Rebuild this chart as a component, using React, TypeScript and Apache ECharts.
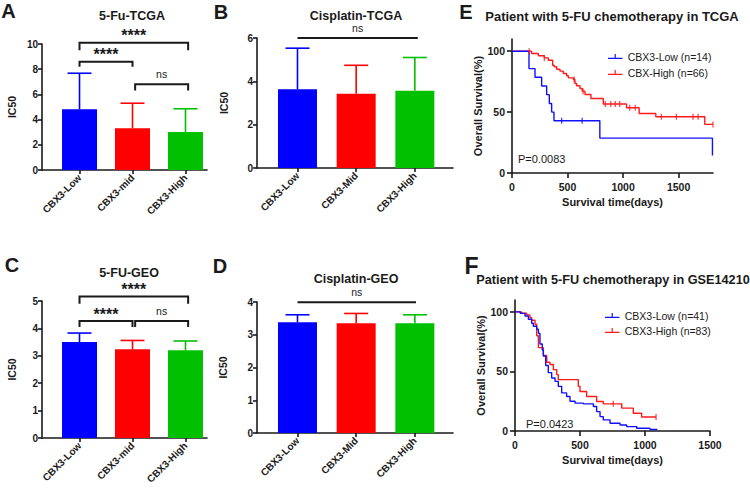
import React, { useEffect, useRef } from 'react';
import * as echarts from 'echarts';

const FONT = '"Liberation Sans", Arial, Helvetica, sans-serif';
const INK = '#1a1a1a';
const BAR_COLORS = ['#0000ff', '#ff0000', '#00c000'];
const KM_BLUE = '#1010ff';
const KM_RED = '#ff1a1a';

// ---- bar panels ----
const CATS_LOWER = ['CBX3-Low', 'CBX3-mid', 'CBX3-High'];
const CATS_UPPER = ['CBX3-Low', 'CBX3-Mid', 'CBX3-High'];

const A_MEAN = [4.82, 3.32, 3.02];
const A_TOP = [7.68, 5.3, 4.86];
const B_MEAN = [3.63, 3.43, 3.56];
const B_TOP = [5.53, 4.74, 5.1];
const C_MEAN = [3.5, 3.24, 3.2];
const C_TOP = [3.83, 3.56, 3.54];
const D_MEAN = [3.38, 3.35, 3.35];
const D_TOP = [3.61, 3.65, 3.61];

// brackets: [x1, x2, line value, leg end value]
const A_BRACKETS = [[0, 2.05, 10.1, 9.5], [0, 1, 8.6, 8.2], [1.05, 2.05, 6.8, 6.3]];
const A_LABELS = ['****', '****', 'ns'];
const B_BRACKETS = [[0, 2.05, 6.0, 6.0]];
const B_LABELS = ['ns'];
const C_BRACKETS = [[0, 2.05, 5.16, 4.9], [0, 1, 4.27, 4.05], [1.05, 2.05, 4.27, 4.05]];
const C_LABELS = ['****', '****', 'ns'];
const D_BRACKETS = [[0, 2.02, 3.99, 3.99]];
const D_LABELS = ['ns'];

// ---- survival panels ----
const E_NAMES = ['CBX3-Low (n=14)', 'CBX-High (n=66)'];
const E_LOW = [[0, 100], [153, 85.7], [207, 78.6], [267, 71.4], [312, 64.3], [336, 57.1], [357, 50], [378, 42.9], [791, 28.6], [1805, 14.3]];
const E_LOW_CENS = [[447, 42.9], [632, 42.9]];
const E_HIGH = [[0, 100], [177, 98.1], [237, 96.2], [291, 94.5], [327, 92.6], [366, 88.5], [380, 87.2], [402, 85.2], [432, 83.6], [462, 81.7], [492, 79.8], [507, 78.1], [552, 76.8], [567, 73.5], [582, 71.6], [612, 69.4], [632, 67.2], [657, 64.5], [711, 61.2], [822, 56.6], [1031, 53.6], [1145, 48.9], [1295, 46.2], [1736, 39.9], [1810, 39.9]];
const E_HIGH_CENS = [[155, 100], [291, 94.5], [560, 76.8], [640, 67.2], [840, 56.6], [890, 56.6], [930, 56.6], [970, 56.6], [1060, 53.6], [1110, 53.6], [1345, 46.2], [1480, 46.2], [1630, 46.2], [1676, 46.2], [1810, 39.9]];

const F_NAMES = ['CBX3-Low (n=41)', 'CBX3-High (n=83)'];
const F_LOW = [[0, 100], [40, 98.8], [77, 96.6], [103, 93.8], [128, 90.5], [141, 88], [167, 85.4], [180, 82], [192, 73], [210, 68], [218, 63], [236, 55], [256, 49], [282, 44.5], [308, 41.7], [333, 37.5], [359, 32], [397, 29], [423, 25], [462, 23.4], [526, 22.8], [603, 20.6], [628, 16.3], [654, 12.1], [679, 9.3], [731, 6.5], [808, 5], [859, 3.7], [936, 2.3], [1038, 1.2], [1095, 1.2]];
const F_LOW_CENS: number[][] = [];
const F_HIGH = [[0, 100], [51, 98.9], [90, 97.5], [115, 95.2], [128, 93], [154, 89.6], [167, 80], [180, 70], [218, 63.4], [244, 57.7], [269, 55.8], [295, 51.5], [321, 47.3], [333, 43.1], [487, 37.5], [500, 33.2], [551, 29], [628, 24.8], [679, 22.8], [821, 19.2], [910, 14.9], [974, 11.8], [1085, 11.8]];
const F_HIGH_CENS = [[756, 22.8], [1085, 11.8]];

const TICK_ICON = 'path://M0,4H15V5.2H0Z M6.9,0H8.1V5.2H6.9Z';

const axisLineStyle = { color: INK, width: 1.6 };

function barXAxis(grid: number, min: number, max: number, cats: string[]) {
  return {
    type: 'value', gridIndex: grid, min, max,
    axisLine: { show: true, onZero: false, lineStyle: axisLineStyle },
    axisTick: { show: true, length: 4, customValues: [0, 1, 2], lineStyle: axisLineStyle },
    axisLabel: {
      customValues: [0, 1, 2], rotate: 45, margin: 6, fontSize: 10, fontWeight: 'bold',
      fontFamily: FONT, color: INK, formatter: (v: number) => cats[Math.round(v)] ?? '',
    },
    splitLine: { show: false },
  };
}

function barYAxis(grid: number, max: number, interval: number, nameGap: number) {
  return {
    type: 'value', gridIndex: grid, min: 0, max, interval,
    name: 'IC50', nameLocation: 'middle', nameGap, nameRotate: 90,
    nameTextStyle: { fontSize: 10.5, fontWeight: 'bold', fontFamily: FONT, color: INK },
    axisLine: { show: true, onZero: false, lineStyle: axisLineStyle },
    axisTick: { show: true, length: 4, lineStyle: axisLineStyle },
    axisLabel: { margin: 4, fontSize: 10, fontWeight: 'bold', fontFamily: FONT, color: INK },
    splitLine: { show: false },
  };
}

function kmXAxis(grid: number, max: number) {
  return {
    type: 'value', gridIndex: grid, min: 0, max,
    name: 'Survival time(days)', nameLocation: 'middle', nameGap: 23,
    nameTextStyle: { fontSize: 11, fontWeight: 'bold', fontFamily: FONT, color: INK },
    axisLine: { show: true, onZero: false, lineStyle: axisLineStyle },
    axisTick: { show: true, length: 5, customValues: [0, 500, 1000, 1500], lineStyle: axisLineStyle },
    axisLabel: {
      customValues: [0, 500, 1000, 1500], margin: 8, fontSize: 10.5, fontWeight: 'bold', fontFamily: FONT, color: INK,
      formatter: (v: number) => String(v),
    },
    splitLine: { show: false },
  };
}

function kmYAxis(grid: number) {
  return {
    type: 'value', gridIndex: grid, min: 0, max: 110,
    name: 'Overall Survival(%)', nameLocation: 'middle', nameGap: 27, nameRotate: 90,
    nameTextStyle: { fontSize: 11, fontWeight: 'bold', fontFamily: FONT, color: INK },
    axisLine: { show: true, onZero: false, lineStyle: axisLineStyle },
    axisTick: { show: true, length: 5, customValues: [0, 50, 100], lineStyle: axisLineStyle },
    axisLabel: {
      customValues: [0, 50, 100], margin: 7, fontSize: 10.5, fontWeight: 'bold', fontFamily: FONT, color: INK,
      formatter: (v: number) => String(v),
    },
    splitLine: { show: false },
  };
}

function barSeries(idx: number, means: number[], width: number) {
  return {
    type: 'bar', xAxisIndex: idx, yAxisIndex: idx, barWidth: width, z: 2,
    data: means.map((v, k) => ({ value: [k, v], itemStyle: { color: BAR_COLORS[k] } })),
  };
}

function errSeries(idx: number, means: number[], tops: number[], cap: number) {
  return {
    type: 'custom', xAxisIndex: idx, yAxisIndex: idx, z: 3,
    encode: { x: 0, y: [1, 2] },
    data: means.map((v, k) => [k, v, tops[k]]),
    renderItem: (params: any, api: any) => {
      const p0 = api.coord([api.value(0), api.value(1)]);
      const p1 = api.coord([api.value(0), api.value(2)]);
      const color = BAR_COLORS[params.dataIndex];
      return {
        type: 'group',
        children: [
          { type: 'line', shape: { x1: p0[0], y1: p0[1], x2: p1[0], y2: p1[1] }, style: { stroke: color, lineWidth: 1.6 } },
          { type: 'line', shape: { x1: p1[0] - cap / 2, y1: p1[1], x2: p1[0] + cap / 2, y2: p1[1] }, style: { stroke: color, lineWidth: 1.6 } },
        ],
      };
    },
  };
}

function bracketSeries(idx: number, brackets: number[][], labels: string[]) {
  return {
    type: 'custom', xAxisIndex: idx, yAxisIndex: idx, z: 4, clip: false,
    encode: { x: [0, 1], y: [2, 3] },
    data: brackets,
    renderItem: (params: any, api: any) => {
      const a = api.coord([api.value(0), api.value(3)]);
      const b = api.coord([api.value(0), api.value(2)]);
      const c = api.coord([api.value(1), api.value(2)]);
      const d = api.coord([api.value(1), api.value(3)]);
      const label = labels[params.dataIndex];
      const stars = label !== 'ns';
      return {
        type: 'group',
        children: [
          { type: 'polyline', shape: { points: [a, b, c, d] }, style: { stroke: INK, lineWidth: 2, fill: 'none' } },
          {
            type: 'text', x: (b[0] + c[0]) / 2, y: b[1] - (stars ? 7 : 10),
            style: {
              text: label, align: 'center', verticalAlign: 'middle', fill: INK, fontFamily: FONT,
              fontSize: stars ? 16 : 10.5, fontWeight: stars ? 'bold' : 'normal',
            },
          },
        ],
      };
    },
  };
}

function kmLine(idx: number, name: string, data: number[][], color: string) {
  return {
    type: 'line', name, xAxisIndex: idx, yAxisIndex: idx, step: 'end', symbol: 'none', showSymbol: false,
    data, lineStyle: { color, width: 1.4 }, itemStyle: { color }, z: 3,
  };
}

function kmCens(idx: number, name: string, data: number[][], color: string) {
  return {
    type: 'scatter', name, xAxisIndex: idx, yAxisIndex: idx, symbol: 'rect', symbolSize: [1.3, 6],
    data, itemStyle: { color }, z: 4, silent: true,
  };
}

function txt(text: string, x: number, y: number, size: number, bold = true, align = 'center') {
  return {
    type: 'text', x, y,
    style: { text, fontSize: size, fontWeight: bold ? 'bold' : 'normal', fontFamily: FONT, fill: INK, align, verticalAlign: 'middle' },
  };
}

export default function App() {
  const ref = useRef<HTMLDivElement>(null);
  useEffect(() => {
    if (!ref.current) return;
    const chart = echarts.init(ref.current, undefined, { renderer: 'svg' });
    const legendText = { fontSize: 10.5, fontFamily: FONT, color: INK };
    chart.setOption({
      animation: false,
      backgroundColor: '#ffffff',
      grid: [
        { left: 42, top: 44, width: 165, height: 126 },
        { left: 257, top: 38, width: 196, height: 130 },
        { left: 42, top: 301, width: 165, height: 137 },
        { left: 257, top: 302, width: 196, height: 131 },
        { left: 512, top: 39, width: 201, height: 134 },
        { left: 515, top: 300, width: 195, height: 131 },
      ],
      xAxis: [
        barXAxis(0, -0.708, 2.406, CATS_LOWER),
        barXAxis(1, -0.69, 2.65, CATS_UPPER),
        barXAxis(2, -0.708, 2.406, CATS_LOWER),
        barXAxis(3, -0.69, 2.65, CATS_UPPER),
        kmXAxis(4, 1810),
        kmXAxis(5, 1500),
      ],
      yAxis: [
        barYAxis(0, 10, 2, 25),
        barYAxis(1, 6, 2, 28),
        barYAxis(2, 5, 1, 25),
        barYAxis(3, 4, 1, 29),
        kmYAxis(4),
        kmYAxis(5),
      ],
      legend: [
        {
          left: 603, top: 46, orient: 'vertical', itemWidth: 15, itemHeight: 5, itemGap: 5,
          icon: TICK_ICON, selectedMode: false, data: E_NAMES, textStyle: legendText,
        },
        {
          left: 600, top: 305, orient: 'vertical', itemWidth: 15, itemHeight: 5, itemGap: 4,
          icon: TICK_ICON, selectedMode: false, data: F_NAMES, textStyle: legendText,
        },
      ],
      series: [
        barSeries(0, A_MEAN, 35), errSeries(0, A_MEAN, A_TOP, 24), bracketSeries(0, A_BRACKETS, A_LABELS),
        barSeries(1, B_MEAN, 39), errSeries(1, B_MEAN, B_TOP, 24), bracketSeries(1, B_BRACKETS, B_LABELS),
        barSeries(2, C_MEAN, 35), errSeries(2, C_MEAN, C_TOP, 24), bracketSeries(2, C_BRACKETS, C_LABELS),
        barSeries(3, D_MEAN, 39), errSeries(3, D_MEAN, D_TOP, 24), bracketSeries(3, D_BRACKETS, D_LABELS),
        kmLine(4, E_NAMES[1], E_HIGH, KM_RED),
        kmLine(4, E_NAMES[0], E_LOW, KM_BLUE),
        kmCens(4, 'E-high-censored', E_HIGH_CENS, KM_RED),
        kmCens(4, 'E-low-censored', E_LOW_CENS, KM_BLUE),
        kmLine(5, F_NAMES[1], F_HIGH, KM_RED),
        kmLine(5, F_NAMES[0], F_LOW, KM_BLUE),
        kmCens(5, 'F-high-censored', F_HIGH_CENS, KM_RED),
        kmCens(5, 'F-low-censored', F_LOW_CENS, KM_BLUE),
      ],
      graphic: [
        txt('A', 8.5, 11, 20),
        txt('B', 221, 11.5, 20),
        txt('C', 12, 265, 20),
        txt('D', 220, 266, 20),
        txt('E', 466, 11.5, 20),
        txt('F', 471.5, 266, 23),
        txt('5-Fu-TCGA', 132, 16, 12.5),
        txt('Cisplatin-TCGA', 356, 16, 12.5),
        txt('5-FU-GEO', 129, 273, 12.5),
        txt('Cisplatin-GEO', 356, 279, 12.5),
        txt('Patient with 5-FU chemotherapy in TCGA', 612, 16, 13),
        txt('Patient with 5-FU chemotherapy in GSE14210', 613, 280, 12.7),
        txt('P=0.0083', 518, 159, 11, false, 'left'),
        txt('P=0.0423', 526, 424, 11, false, 'left'),
      ],
    });
    return () => chart.dispose();
  }, []);
  return <div ref={ref} style={{ position: 'fixed', left: 0, top: 0, width: 750, height: 490, background: '#fff' }} />;
}
